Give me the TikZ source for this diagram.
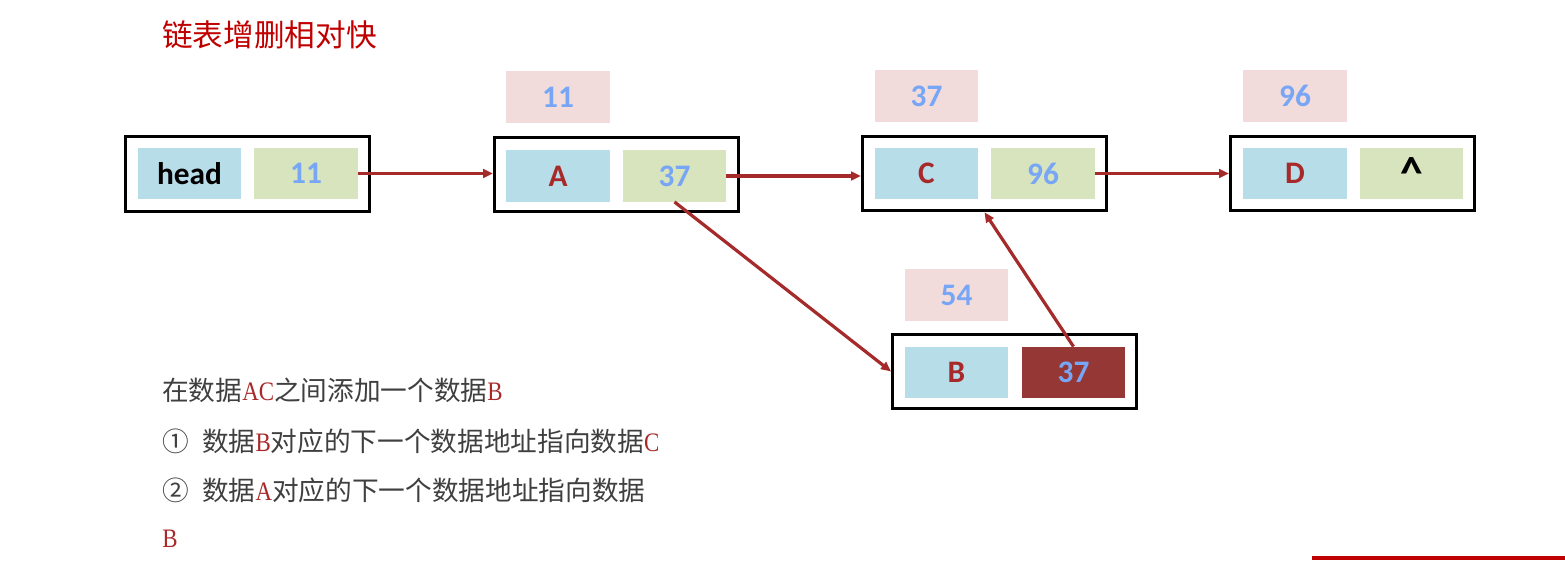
\documentclass[tikz,border=0pt]{standalone}
\usepackage{fontspec}
\setmainfont{Liberation Serif}
\newfontfamily\cjk{Noto Sans CJK SC}
\newfontfamily\cellfont{Carlito}
\newfontfamily\latinfont[FakeStretch=0.86]{Liberation Serif}
\usetikzlibrary{arrows.meta,positioning}
\definecolor{keyfill}{HTML}{B7DDE8}
\definecolor{nextfill}{HTML}{D7E4BD}
\definecolor{addrfill}{HTML}{F2DCDB}
\definecolor{newfill}{HTML}{953735}
\definecolor{digit}{HTML}{78A6F6}
\definecolor{letter}{HTML}{A8292A}
\definecolor{linkred}{HTML}{A52A2A}
\definecolor{titlered}{HTML}{C00000}
\definecolor{bodytext}{HTML}{3F3F3F}
\newcommand{\hl}[1]{{\latinfont\textcolor{letter}{#1}}}
\tikzset{
  % ---- list nodes ------------------------------------------------
  frame/.style      = {draw=black, line width=2.2pt, inner sep=0pt,
                       minimum width=183pt, minimum height=56pt},
  cell/.style       = {inner sep=0pt, minimum width=77.5pt,
                       minimum height=38.5pt,
                       font=\cellfont\bfseries\fontsize{23.5}{27}\selectfont},
  keycell/.style    = {cell, fill=keyfill, text=letter},
  nextcell/.style   = {cell, fill=nextfill, text=digit},
  addrcell/.style   = {cell, fill=addrfill, text=digit},
  newcell/.style    = {cell, fill=newfill, text=digit},
  link/.style       = {draw=linkred, line width=2.4pt,
                       -{Triangle[length=7.5pt,width=6.5pt]}},
  % ---- text ------------------------------------------------------
  heading/.style    = {anchor=west, inner sep=0pt, text=titlered,
                       font=\cjk\fontsize{23}{27}\selectfont},
  note/.style       = {anchor=west, inner sep=0pt, text=bodytext,
                       font=\cjk\fontsize{20}{24}\selectfont},
}
\begin{document}
\begin{tikzpicture}[x=0.75pt,y=-0.75pt]
  \useasboundingbox (0,0) rectangle (1565,560);
  \node[heading] (title) at (162,35) {链表增删相对快};
  % head
  \node[frame] (fhead) at (247.5,174) {};
  \node[keycell, text=black] (hkey) at (189.5,173.5) {head};
  \node[nextcell] (hnext) at (306,173.5) {11};
  % A
  \node[addrcell] (aaddr) at (558,97) {11};
  \node[frame] (fA) at (616.5,174.5) {};
  \node[keycell] (akey) at (558,176) {A};
  \node[nextcell] (anext) at (674.5,176) {37};
  % C
  \node[addrcell] (caddr) at (926.5,96) {37};
  \node[frame] (fC) at (984.5,173.5) {};
  \node[keycell] (ckey) at (926.5,173.5) {C};
  \node[nextcell] (cnext) at (1043,173.5) {96};
  % D
  \node[addrcell] (daddr) at (1295,96) {96};
  \node[frame] (fD) at (1352.5,173.5) {};
  \node[keycell] (dkey) at (1295,173.5) {D};
  \node[nextcell, text=black] (dnext) at (1411.5,173.5)
    {\fontsize{34}{34}\selectfont\textasciicircum};
  % B (new)
  \node[addrcell] (baddr) at (956.5,295) {54};
  \node[frame] (fB) at (1014.5,371.5) {};
  \node[keycell] (bkey) at (956.5,372.5) {B};
  \node[newcell] (bnext) at (1073.5,372.5) {37};
  % links
  \draw[link] (hnext.east) -- (fA.west |- hnext.east);
  \draw[link] (anext.east) -- (fC.west |- anext.east);
  \draw[link] (cnext.east) -- (fD.west |- cnext.east);
  \draw[link] (anext.south) -- (fB.west);
  \draw[link] (bnext.north) -- (fC.south);
  % explanation
  \node[note] (step0) at (162,390) {在数据\hl{AC}之间添加一个数据\hl{B}};
  \node[note] (step1) at (162,441) {①\hspace{0.5em}数据\hl{B}对应的下一个数据地址指向数据\hl{C}};
  \node[note] (step2) at (162,490) {②\hspace{0.5em}数据\hl{A}对应的下一个数据地址指向数据};
  \node[note] (step3) at (162,539) {\hl{B}};
  \fill[titlered] (1312,556) rectangle (1565,560);
\end{tikzpicture}
\end{document}
